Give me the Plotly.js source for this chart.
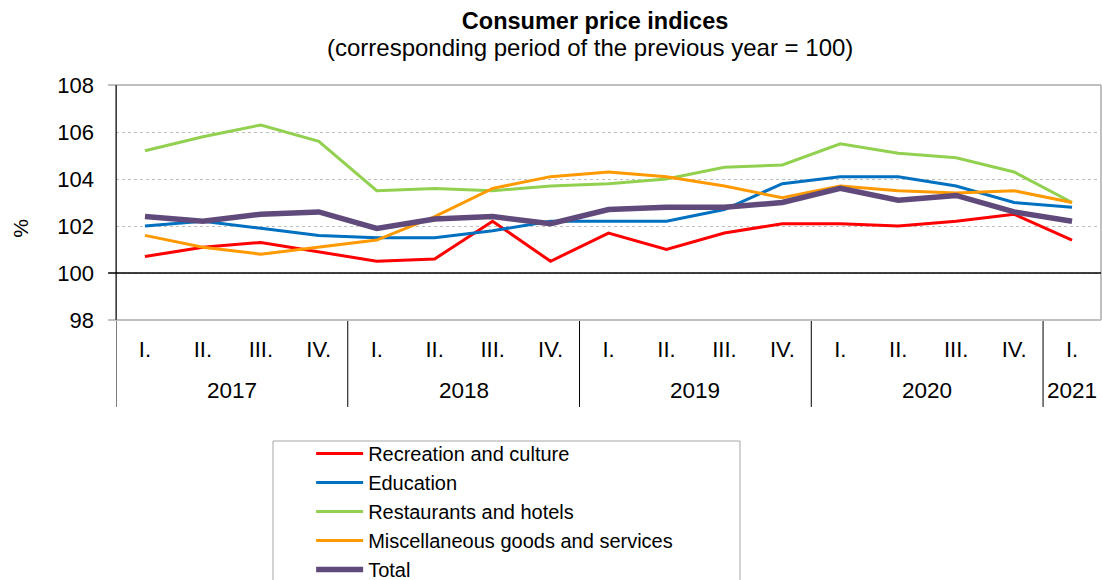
<!DOCTYPE html>
<html>
<head>
<meta charset="utf-8">
<script src="https://cdn.plot.ly/plotly-3.0.1.min.js"></script>
<style>
html,body{margin:0;padding:0;background:#fff;}
#chart{width:1102px;height:580px;}
</style>
</head>
<body>
<div id="chart"></div>
<script>
// ---- data ----
var quarters = ["I.","II.","III.","IV.","I.","II.","III.","IV.","I.","II.","III.","IV.","I.","II.","III.","IV.","I."];
var years = ["2017","2018","2019","2020","2021"];
var quartersPerYear = [4,4,4,4,1];

var recreation  = [100.7,101.1,101.3,100.9, 100.5,100.6,102.2,100.5, 101.7,101.0,101.7,102.1, 102.1,102.0,102.2,102.5, 101.4];
var education   = [102.0,102.2,101.9,101.6, 101.5,101.5,101.8,102.2, 102.2,102.2,102.7,103.8, 104.1,104.1,103.7,103.0, 102.8];
var restaurants = [105.2,105.8,106.3,105.6, 103.5,103.6,103.5,103.7, 103.8,104.0,104.5,104.6, 105.5,105.1,104.9,104.3, 103.0];
var misc        = [101.6,101.1,100.8,101.1, 101.4,102.4,103.6,104.1, 104.3,104.1,103.7,103.2, 103.7,103.5,103.4,103.5, 103.0];
var total       = [102.4,102.2,102.5,102.6, 101.9,102.3,102.4,102.1, 102.7,102.8,102.8,103.0, 103.6,103.1,103.3,102.6, 102.2];

var seriesNames = ["Recreation and culture","Education","Restaurants and hotels","Miscellaneous goods and services","Total"];
var yTicks = [98,100,102,104,106,108];
var titleText = "Consumer price indices";
var subtitleText = "(corresponding period of the previous year = 100)";

// ---- build ----
var FONT = "Liberation Sans, Arial, sans-serif";
var xIdx = quarters.map(function(_, i){ return i; });
var seriesData = [recreation, education, restaurants, misc, total];
var colors = ["#FF0000","#0070C0","#92D050","#FF9900","#604A7B"];
var widths = [3,3,3,3,5.5];

var traces = seriesData.map(function(vals, k){
  return {
    x: xIdx, y: vals, type: "scatter", mode: "lines",
    name: seriesNames[k],
    line: {color: colors[k], width: widths[k]},
    hoverinfo: "x+y+name"
  };
});

var shapes = [];
var annotations = [];
// year dividers and labels
var start = 0;
quartersPerYear.forEach(function(n, i){
  var b = start - 0.5;
  shapes.push({type:"line", xref:"x", yref:"paper", x0:b, x1:b, y0:(i===0?1:0), y1:-0.37,
               line:{color:"#000", width:1}});
  annotations.push({xref:"x", yref:"paper", x: start + (n-1)/2, y:-0.298, yanchor:"middle",
                    text: years[i], showarrow:false, font:{family:FONT, size:22.5, color:"#000"}});
  start += n;
});
// frame (gray)
shapes.push({type:"line", xref:"paper", yref:"paper", x0:-0.008, x1:1, y0:1, y1:1, line:{color:"#BFBFBF", width:2}});
shapes.push({type:"line", xref:"paper", yref:"paper", x0:-0.008, x1:1, y0:0, y1:0, line:{color:"#BFBFBF", width:2}});
shapes.push({type:"line", xref:"paper", yref:"paper", x0:1, x1:1, y0:0, y1:1, line:{color:"#BFBFBF", width:2}});
// 100 reference line
shapes.push({type:"line", xref:"paper", yref:"y", x0:-0.008, x1:1, y0:100, y1:100, line:{color:"#000", width:1.3}, layer:"above"});
// left axis line on top of frame
shapes.push({type:"line", xref:"paper", yref:"paper", x0:0, x1:0, y0:0, y1:1, line:{color:"#000", width:1}});
// legend box
shapes.push({type:"rect", xref:"paper", yref:"paper", x0:0.1594, x1:0.6335, y0:-0.5149, y1:-1.3,
             line:{color:"#A6A6A6", width:1}, fillcolor:"rgba(0,0,0,0)"});
// % axis title
annotations.push({xref:"paper", yref:"paper", x:-0.097, y:0.39, text:"%", textangle:-90, showarrow:false,
                  xanchor:"center", yanchor:"middle", font:{family:FONT, size:21, color:"#000"}});
// subtitle
annotations.push({xref:"paper", yref:"paper", x:0.4812, y:1.1617, text:subtitleText, showarrow:false,
                  xanchor:"center", yanchor:"middle", font:{family:FONT, size:24, color:"#000"}});

var layout = {
  width: 1102, height: 580,
  margin: {l:116, r:1, t:85, b:260, pad:0, autoexpand:false},
  paper_bgcolor: "#fff", plot_bgcolor: "#fff",
  font: {family: FONT, color: "#000"},
  title: {
    text: "<b>" + titleText + "</b>",
    font: {family: FONT, size: 23.5, color: "#000"},
    x: 0.54, xref: "container", xanchor: "center",
    y: 0.965, yref: "container", yanchor: "middle"
  },
  xaxis: {
    range: [-0.5, 16.5], tickmode: "array", tickvals: xIdx, ticktext: quarters,
    showgrid: false, zeroline: false, showline: false, ticks: "",
    tickfont: {family: FONT, size: 22, color: "#000"}, ticklabelstandoff: 14,
    fixedrange: true
  },
  yaxis: {
    range: [98, 108], tickmode: "array", tickvals: yTicks,
    showgrid: true, gridcolor: "#BFBFBF", griddash: "dot", gridwidth: 1,
    zeroline: false, showline: false, ticks: "",
    tickfont: {family: FONT, size: 22, color: "#000"}, ticklabelstandoff: 21,
    fixedrange: true
  },
  showlegend: true,
  legend: {
    x: 0.1981, y: -0.4850, xanchor: "left", yanchor: "top",
    font: {family: FONT, size: 20, color: "#000"},
    bgcolor: "rgba(0,0,0,0)", borderwidth: 0, itemwidth: 47,
    traceorder: "normal"
  },
  shapes: shapes,
  annotations: annotations
};

Plotly.newPlot("chart", traces, layout, {displayModeBar: false, staticPlot: true});
</script>
</body>
</html>
